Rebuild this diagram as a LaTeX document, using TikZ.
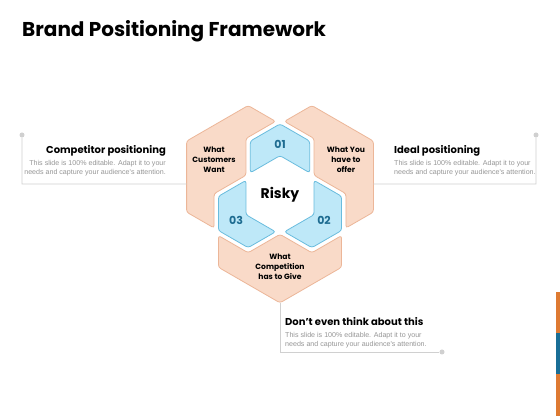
\documentclass[tikz,border=0pt]{standalone}
\usepackage{fontspec}
\setmainfont{Poppins}
\newfontfamily\bodyfont{Liberation Sans}
\usetikzlibrary{calc}
\definecolor{peachfill}{RGB}{249,218,200}
\definecolor{peachline}{RGB}{236,182,152}
\definecolor{bluefill}{RGB}{190,232,248}
\definecolor{blueline}{RGB}{105,188,222}
\definecolor{numblue}{RGB}{30,108,145}
\definecolor{bodygray}{RGB}{150,150,150}
\definecolor{linegray}{RGB}{208,208,208}
\definecolor{barorange}{RGB}{222,122,50}
\definecolor{barblue}{RGB}{25,110,150}
\begin{document}
\begin{tikzpicture}[x=1pt,y=1pt,
  peach/.style={fill=peachfill, draw=peachline, line width=0.8pt, rounded corners=2.5pt},
  bluep/.style={fill=bluefill, draw=blueline, line width=0.8pt, rounded corners=2.5pt},
  numlab/.style={font=\bfseries\fontsize{11}{11}\selectfont, text=numblue, inner sep=0pt},
  piecelab/.style={font=\bfseries\fontsize{7.6}{9.8}\selectfont, align=center, inner sep=0pt},
  heading/.style={font=\bfseries\fontsize{10}{12}\selectfont, inner sep=0pt},
  body/.style={font=\bodyfont\fontsize{7.1}{8.4}\selectfont, text=bodygray, inner sep=0pt},
  conn/.style={draw=linegray, line width=0.8pt},
  dotm/.style={circle, fill=linegray, minimum size=5pt, inner sep=0pt}
]
\useasboundingbox (0,0) rectangle (560,420);
\fill[white] (0,0) rectangle (560,420);

% title
\node[anchor=base west, inner sep=0pt, font=\bfseries\fontsize{20}{23}\selectfont] (title) at (22,383) {Brand Positioning Framework};

% hexagon figure
\begin{scope}[shift={(280,225)}, x=36.8pt, y=36.8pt]
  \foreach \r in {0,120,-120}{
    \begin{scope}[rotate=\r]
      \draw[peach] (-0.12,2) -- (-0.866,2.4307) -- (-2.538,1.4654) -- (-2.538,-0.4654)
        -- (-1.792,-0.8961) -- (-1.792,0.0346) -- (-0.926,0.5346) -- (-0.926,1.5346) -- cycle;
      \draw[bluep] (-0.806,0.6039) -- (0,1.0693) -- (0.806,0.6039) -- (0.806,1.4654)
        -- (0,1.9307) -- (-0.806,1.4654) -- cycle;
    \end{scope}
  }
  \node[font=\bfseries\fontsize{14}{14}\selectfont, inner sep=0pt] (risky) at (0,0.02) {Risky};
  \node[numlab] (n01) at (90:1.38) {01};
  \node[numlab] (n02) at (-30:1.38) {02};
  \node[numlab] (n03) at (210:1.38) {03};
  \node[piecelab] (p1) at (152:2.03) {What\\Customers\\Want};
  \node[piecelab] (p2) at (28:2.03) {What You\\have to\\offer};
  \node[piecelab] (p3) at (270:1.95) {What\\Competition\\has to Give};
  \coordinate (el) at (-2.538,0.30);
  \coordinate (er) at (2.538,0.30);
  \coordinate (eb) at (0,-2.93);
\end{scope}

% left text block
\node[heading, anchor=base east] (h1) at (166,266) {Competitor positioning};
\node[body, anchor=north east, align=right] (b1) at (166,259.5) {This slide is 100\% editable. Adapt it to your\\needs and capture your audience's attention.};
% right text block
\node[heading, anchor=base west] (h2) at (394,266) {Ideal positioning};
\node[body, anchor=north west, align=left] (b2) at (394,259.5) {This slide is 100\% editable. Adapt it to your\\needs and capture your audience's attention.};
% bottom text block
\node[heading, anchor=base west] (h3) at (285,94) {Don't even think about this};
\node[body, anchor=north west, align=left] (b3) at (285,87.5) {This slide is 100\% editable. Adapt it to your\\needs and capture your audience's attention.};

% connectors
\node[dotm] (dl) at (22,285) {};
\coordinate (cl) at (22,236);
\draw[conn] (dl) -- (cl) -- (el);
\node[dotm] (dr) at (536,285) {};
\coordinate (cr) at (536,236);
\draw[conn] (dr) -- (cr) -- (er);
\node[dotm] (db) at (442,68) {};
\coordinate (cb) at (280,68);
\draw[conn] (eb) -- (cb) -- (db);

% right edge bars
\fill[barorange] (556,87) rectangle (560,128);
\fill[barblue] (556,46) rectangle (560,87);
\fill[barorange] (556,4) rectangle (560,46);
\end{tikzpicture}
\end{document}
